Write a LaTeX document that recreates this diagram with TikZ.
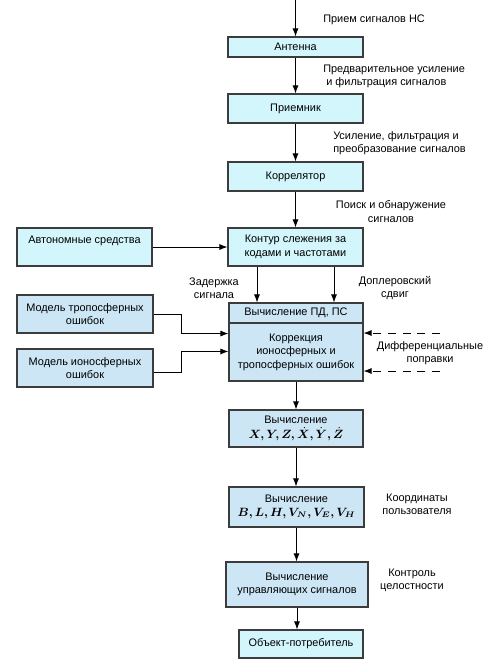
\documentclass[tikz,border=0pt]{standalone}
\usepackage{amsmath,bm}
\usepackage{fontspec}
\setmainfont{Liberation Sans}
\usetikzlibrary{arrows.meta,calc}
\definecolor{cyanfill}{RGB}{210,246,251}
\definecolor{bluefill}{RGB}{204,230,246}
\definecolor{edge}{RGB}{60,60,60}
\newcommand{\mathxyz}{\fontsize{9}{11}\selectfont$\boldsymbol{X,Y,Z,\dot X,\dot Y,\dot Z}$}
\newcommand{\mathblh}{\fontsize{9}{11}\selectfont$\boldsymbol{B,L,H,V_{N},V_{E},V_{H}}$}
\begin{document}
\begin{tikzpicture}[x=0.75pt,y=-0.75pt,
  bx/.style={draw=edge,line width=0.8pt,rectangle,inner sep=0pt,align=center,
     font=\fontsize{8.2}{10.2}\selectfont},
  cbox/.style={bx,fill=cyanfill},
  bbox/.style={bx,fill=bluefill},
  lbl/.style={font=\fontsize{8.2}{9.9}\selectfont,inner sep=0pt},
  arr/.style={-{Latex[length=6pt,width=4.5pt]},line width=0.7pt,draw=black}]
\useasboundingbox[fill=white] (0,0) rectangle (490,672);

% boxes
\node[cbox,minimum width=101.25pt,minimum height=15pt] (ant) at (295.5,47) {Антенна};
\node[cbox,minimum width=101.25pt,minimum height=21.75pt] (rec) at (295.5,108.5) {Приемник};
\node[cbox,minimum width=101.25pt,minimum height=21.75pt] (cor) at (295.5,176.5) {Коррелятор};
\node[cbox,minimum width=101.25pt,minimum height=28.5pt] (kon) at (295.5,247) {Контур слежения за\\кодами и частотами};
\node[cbox,minimum width=101.25pt,minimum height=28.5pt] (avt) at (84.5,247) {};
\node[lbl,font=\fontsize{8.2}{10}\selectfont] (avtt) at (84.5,241) {Автономные средства};
\node[bbox,minimum width=100.5pt,minimum height=15pt] (pd) at (296,313) {Вычисление ПД, ПС};
\node[bbox,minimum width=100.5pt,minimum height=43.5pt] (corr) at (296,352) {Коррекция\\ионосферных и\\тропосферных ошибок};
\node[bbox,minimum width=102pt,minimum height=28.5pt] (tro) at (85,314) {Модель тропосферных\\ошибок};
\node[bbox,minimum width=102pt,minimum height=28.5pt] (ion) at (85,368) {Модель ионосферных\\ошибок};
\node[bbox,minimum width=100.5pt,minimum height=27.75pt] (xyz) at (296,428.5) {Вычисление\\[1pt]\mathxyz};
\node[bbox,minimum width=101.25pt,minimum height=30pt] (blh) at (296.5,507) {Вычисление\\[0pt]\mathblh};
\node[bbox,minimum width=106.5pt,minimum height=33.75pt] (upr) at (297,584.5) {Вычисление\\управляющих сигналов};
\node[cbox,minimum width=93pt,minimum height=21pt] (obj) at (301,644) {Объект-потребитель};

% labels
\node[lbl,anchor=west] (l1) at (323,20) {Прием сигналов НС};
\node[lbl,anchor=west,align=left] (l2) at (323,76.5) {Предварительное усиление\\\ и фильтрация сигналов};
\node[lbl,anchor=west,align=left] (l3) at (333,143.5) {Усиление, фильтрация и\\преобразование сигналов};
\node[lbl,align=center] (l4) at (391,211.5) {Поиск и обнаружение\\сигналов};
\node[lbl,align=center] (l5) at (214,288) {Задержка\\сигнала};
\node[lbl,align=center] (l6) at (395,288) {Доплеровский\\сдвиг};
\node[lbl,align=center] (l7) at (430,353.5) {Дифференциальные\\поправки};
\node[lbl,align=center] (l8) at (417,504) {Координаты\\пользователя};
\node[lbl,align=center] (l9) at (412,580.5) {Контроль\\целостности};

% coordinates
\coordinate (top) at (295.5,0);
\coordinate (k1) at (257,0);
\coordinate (k2) at (334,0);
\coordinate (tx) at (181,0);
\coordinate (d1) at (440,333);
\coordinate (d2) at (440,371);

% connectors
\draw[arr] (top) -- (ant.north);
\draw[arr] (ant.south) -- (rec.north);
\draw[arr] (rec.south) -- (cor.north);
\draw[arr] (cor.south) -- (kon.north);
\draw[arr] (avt.east) -- (kon.west);
\draw[arr] (kon.south -| k1) -- (pd.north -| k1);
\draw[arr] (kon.south -| k2) -- (pd.north -| k2);
\draw[arr] (tro.east) -- (tro.east -| tx) -- ($(tx |- tro.south)$) -- (corr.west |- tro.south);
\draw[arr] ([yshift=-3pt]ion.east) -- ([yshift=-3pt]ion.east -| tx) -- ($(tx |- ion.north)+(0,3)$) -- ($(corr.west |- ion.north)+(0,3)$);
\draw[arr,dashed,dash pattern=on 6pt off 5pt] (d1) -- (d1 -| corr.east);
\draw[arr,dashed,dash pattern=on 6pt off 5pt] (d2) -- (d2 -| corr.east);
\draw[arr] (corr.south) -- (xyz.north);
\draw[arr] (xyz.south) -- (blh.north -| xyz.south);
\draw[arr] (blh.south) -- (upr.north -| blh.south);
\draw[arr] (upr.south) -- (obj.north -| upr.south);
\end{tikzpicture}
\end{document}
